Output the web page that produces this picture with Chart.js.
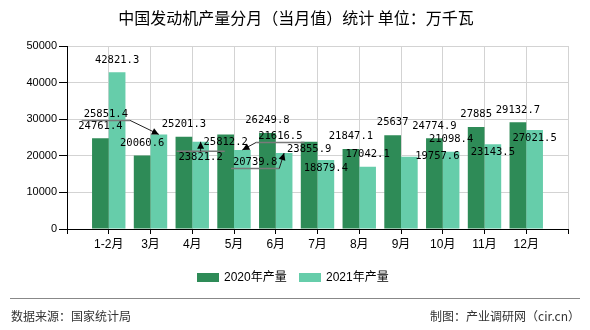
<!DOCTYPE html>
<html>
<head>
<meta charset="utf-8">
<script src="https://cdn.jsdelivr.net/npm/chart.js@4/dist/chart.umd.min.js"></script>
<style>
  html, body { margin: 0; padding: 0; background: #fff; }
  #wrap { width: 590px; height: 330px; position: relative; }
</style>
</head>
<body>
<div id="wrap"><canvas id="c" width="590" height="330"></canvas></div>
<script>
const categories = ['1-2月', '3月', '4月', '5月', '6月', '7月', '8月', '9月', '10月', '11月', '12月'];
const series2020 = [24761.4, 20060.6, 25201.3, 25812.2, 26249.8, 23855.9, 21847.1, 25637, 24774.9, 27885, 29132.7];
const series2021 = [42821.3, 25851.4, 23821.2, 21616.5, 20739.8, 18879.4, 17042.1, 19757.6, 21098.4, 23143.5, 27021.5];
const seriesNames = ['2020年产量', '2021年产量'];
const yTicks = [0, 10000, 20000, 30000, 40000, 50000];
const titleText = '中国发动机产量分月（当月值）统计 单位：万千瓦';
const sourceText = '数据来源：国家统计局';
const creditText = '制图：产业调研网（cir.cn）';

const DARK = '#2E8B57';
const LIGHT = '#66CDAA';

// label placement styles (per dataset, per index): not data
const place = [
  ['up','up','up','in','up','in','up','up','up','up','up'],
  ['up',
   {dx:-53, dy:-20.5, edge:'bottom'},
   {dx:0, dy:15, edge:'top'},
   {dx:38, dy:-14, edge:'bottom'},
   {dx:-29, dy:9, edge:'bottom'},
   'in','up',{dx:28, dy:0},'up','in','in']
];

const axisLabels = [''].concat(categories, ['']);
const pad = arr => [null].concat(arr, [null]);

const decor = {
  id: 'decor',
  afterDraw(chart) {
    const ctx = chart.ctx;
    ctx.save();
    // title
    ctx.fillStyle = '#000';
    ctx.font = '16px "Noto Sans CJK SC"';
    ctx.textAlign = 'center';
    ctx.textBaseline = 'middle';
    ctx.fillText(titleText, 296, 18);
    // legend
    const cols = [DARK, LIGHT];
    const lx = [197, 299];
    ctx.font = '12px "Liberation Sans", "Noto Sans CJK SC"';
    ctx.textAlign = 'left';
    for (let i = 0; i < 2; i++) {
      ctx.fillStyle = cols[i];
      ctx.fillRect(lx[i], 273, 22, 9);
      ctx.fillStyle = '#000';
      ctx.fillText(seriesNames[i], lx[i] + 27, 278);
    }
    // separator
    ctx.strokeStyle = '#888';
    ctx.lineWidth = 1;
    ctx.beginPath();
    ctx.moveTo(10, 298.5);
    ctx.lineTo(580, 298.5);
    ctx.stroke();
    // footer
    ctx.fillStyle = '#333';
    ctx.font = '12px "Noto Sans CJK SC"';
    ctx.textAlign = 'left';
    ctx.fillText(sourceText, 11, 316);
    ctx.textAlign = 'right';
    ctx.fillText(creditText, 580, 316);
    ctx.restore();
  },
  afterDatasetsDraw(chart) {
    const ctx = chart.ctx;
    ctx.save();
    ctx.font = '10.5px "DejaVu Sans Mono"';
    ctx.textBaseline = 'middle';
    ctx.textAlign = 'center';
    chart.data.datasets.forEach((ds, di) => {
      const meta = chart.getDatasetMeta(di);
      meta.data.forEach((el, i) => {
        const v = ds.data[i];
        if (v === null || v === undefined) return;
        const p = place[di][i - 1];
        const txt = String(v);
        const bx = el.x, by = el.y;
        let cx = bx, cy = by - 12.5;
        if (p === 'in') { cy = by + 8; }
        else if (typeof p === 'object') {
          cx = bx + p.dx; cy = by + p.dy;
          if (p.edge) {
            const w = ctx.measureText(txt).width;
            const l = cx - w / 2 - 2, r = cx + w / 2 + 2;
            const ly = p.edge === 'bottom' ? cy + 6.5 : cy - 5.5;
            ctx.strokeStyle = '#7a7a7a';
            ctx.lineWidth = 1.5;
            ctx.beginPath(); ctx.moveTo(l, ly); ctx.lineTo(r, ly); ctx.stroke();
            const sx = Math.min(r, Math.max(l, bx));
            ctx.strokeStyle = '#222';
            ctx.lineWidth = 1;
            ctx.beginPath(); ctx.moveTo(sx, ly); ctx.lineTo(bx, by); ctx.stroke();
            const ang = Math.atan2(by - ly, bx - sx);
            const hl = 7, hw = 3.5;
            ctx.fillStyle = '#000';
            ctx.beginPath();
            ctx.moveTo(bx, by);
            ctx.lineTo(bx - hl * Math.cos(ang) + hw * Math.sin(ang), by - hl * Math.sin(ang) - hw * Math.cos(ang));
            ctx.lineTo(bx - hl * Math.cos(ang) - hw * Math.sin(ang), by - hl * Math.sin(ang) + hw * Math.cos(ang));
            ctx.closePath();
            ctx.fill();
          }
        }
        ctx.fillStyle = '#000';
        ctx.fillText(txt, cx, cy);
      });
    });
    ctx.restore();
  }
};

new Chart(document.getElementById('c'), {
  type: 'bar',
  data: {
    labels: axisLabels,
    datasets: [
      { label: seriesNames[0], data: pad(series2020), backgroundColor: DARK, categoryPercentage: 0.8, barPercentage: 1.0 },
      { label: seriesNames[1], data: pad(series2021), backgroundColor: LIGHT, categoryPercentage: 0.8, barPercentage: 1.0 }
    ]
  },
  options: {
    responsive: false,
    animation: false,
    events: [],
    layout: { padding: { top: 46, right: 22, bottom: 61, left: 0 } },
    plugins: { legend: { display: false }, title: { display: false }, tooltip: { enabled: false } },
    scales: {
      x: {
        type: 'category',
        offset: false,
        grid: { offset: false, color: '#d3d3d3', tickColor: '#000', tickLength: 5, drawTicks: true },
        border: { color: '#000', width: 1 },
        ticks: { color: '#000', font: { family: '"Liberation Sans", "Noto Sans CJK SC"', size: 12 }, padding: 3, maxRotation: 0, autoSkip: false },
        afterFit(s) { s.height = 40; }
      },
      y: {
        min: yTicks[0],
        max: yTicks[yTicks.length - 1],
        afterBuildTicks(s) { s.ticks = yTicks.map(v => ({ value: v })); },
        grid: { color: '#d3d3d3', tickColor: '#000', tickLength: 8 },
        border: { color: '#000', width: 1 },
        ticks: { color: '#000', font: { family: '"Liberation Sans"', size: 11 }, padding: 2, callback: v => String(v) },
        afterFit(s) { s.width = 67; }
      }
    }
  },
  plugins: [decor]
});
</script>
</body>
</html>
